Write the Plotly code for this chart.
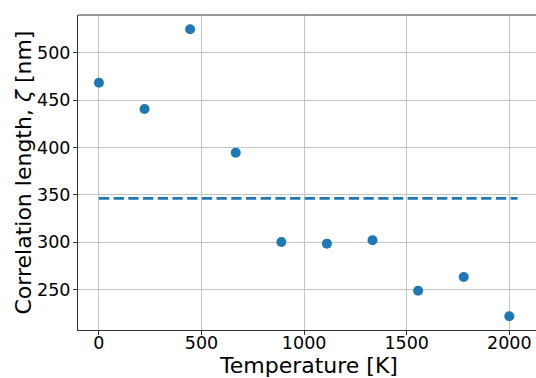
import plotly.graph_objects as go

# Temperature sweep and fitted correlation length at each temperature
temperature_k = [0, 222.2, 444.4, 666.7, 888.9, 1111.1, 1333.3, 1555.6, 1777.8, 2000]
corr_length_nm = [468.6, 440.8, 525.0, 394.7, 300.4, 298.6, 302.2, 248.9, 263.4, 221.9]

# Horizontal reference: mean correlation length over the sweep
mean_span_k = [0, 2040]
mean_corr = sum(corr_length_nm) / len(corr_length_nm)

x_ticks = [0, 500, 1000, 1500, 2000]
y_ticks = [250, 300, 350, 400, 450, 500]

BLUE = "#1f77b4"
SPINE = "#333333"
GRID = "#c4c4c4"
FONT = "DejaVu Sans"

# plot area in pixels
L, T, W, H = 78, 15, 458, 315

fig = go.Figure()

fig.add_trace(go.Scatter(
    x=temperature_k, y=corr_length_nm,
    mode="markers",
    marker=dict(color=BLUE, size=10, line=dict(width=0)),
    showlegend=False,
))

fig.add_trace(go.Scatter(
    x=mean_span_k, y=[mean_corr, mean_corr],
    mode="lines",
    line=dict(color=BLUE, width=2.8, dash="10.3px,4.4px"),
    showlegend=False,
))

axis_common = dict(
    showline=True, linecolor=SPINE, linewidth=1,
    ticks="outside", ticklen=4, tickwidth=1, tickcolor=SPINE,
    showgrid=True, gridcolor=GRID, gridwidth=1,
    zeroline=False,
    tickfont=dict(family=FONT, size=17.5, color="#000"),
)


def px_x(p):
    return (p - L) / W


def px_y(p):
    return (T + H - p) / H


fig.update_layout(
    width=536, height=378,
    margin=dict(l=L, r=536 - L - W, t=T, b=378 - T - H),
    paper_bgcolor="white", plot_bgcolor="white",
    font=dict(family=FONT, color="#000"),
    xaxis=dict(range=[-102, 2130], tickvals=x_ticks, ticklabelstandoff=-7, **axis_common),
    yaxis=dict(range=[207.4, 540.1], tickvals=y_ticks, ticklabelstandoff=-1, **axis_common),
    shapes=[dict(
        type="line", xref="paper", yref="paper",
        x0=0, x1=1, y0=1, y1=1,
        line=dict(color=SPINE, width=1),
    )],
    annotations=[
        dict(text="Temperature [K]", xref="paper", yref="paper",
             x=px_x(308), y=px_y(365.5), xanchor="center", yanchor="middle",
             showarrow=False, font=dict(family=FONT, size=22, color="#000")),
        dict(text="Correlation length, <i>ζ</i> [nm]", xref="paper", yref="paper",
             x=px_x(23), y=px_y(172.5), xanchor="center", yanchor="middle",
             textangle=-90, showarrow=False,
             font=dict(family=FONT, size=22, color="#000")),
        dict(text="(a)", xref="paper", yref="paper",
             x=px_x(191), y=px_y(3), xanchor="center", yanchor="bottom",
             showarrow=False, font=dict(family=FONT, size=22, color="#000")),
    ],
)

fig.write_html("out.html")
